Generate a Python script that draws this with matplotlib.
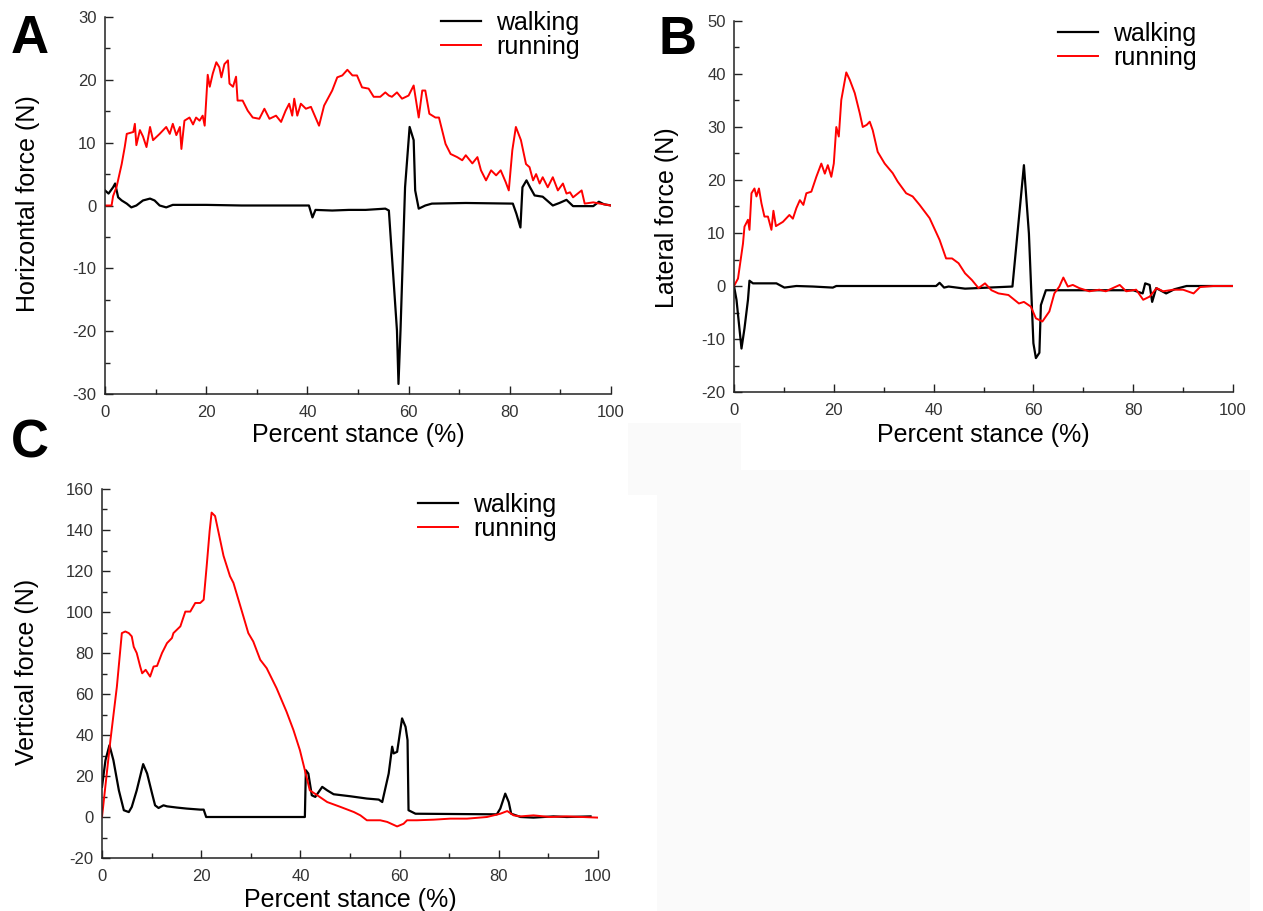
import matplotlib
matplotlib.use("Agg")
import matplotlib.pyplot as plt
from matplotlib.patches import Rectangle
from matplotlib.ticker import MultipleLocator

plt.rcParams['font.family'] = ['Liberation Sans', 'DejaVu Sans']
plt.rcParams['axes.unicode_minus'] = False

# ---------------- data ----------------
# Panel A: horizontal force
a_run_x = [0, 1.3, 1.6, 2.3, 3.3, 3.9, 4.3, 5.6, 5.9, 6.2, 6.9, 7.5, 8.2, 8.9, 9.5, 10.8, 12.1, 12.8,
           13.4, 14.1, 14.8, 15.1, 15.7, 16.7, 17.4, 18.0, 18.7, 19.3, 19.7, 20.3, 20.7, 21.3, 22.0,
           22.6, 23.0, 23.6, 24.3, 24.6, 25.3, 25.9, 26.2, 27.2, 28.2, 29.2, 30.5, 31.5, 32.5, 33.8,
           34.8, 35.7, 36.4, 37.0, 37.4, 38.0, 38.7, 39.7, 40.7, 42.3, 43.3, 44.9, 45.9, 46.9, 47.9,
           48.9, 49.8, 50.8, 52.1, 53.1, 54.4, 55.4, 56.1, 56.7, 57.7, 58.7, 60.0, 61.0, 62.0, 62.7,
           63.3, 64.1, 65.3, 66.0, 67.3, 68.3, 69.6, 70.6, 71.3, 72.6, 73.6, 74.3, 75.3, 76.3, 77.3,
           78.2, 79.2, 79.8, 80.5, 81.2, 82.2, 83.2, 83.9, 84.6, 85.2, 85.9, 86.5, 87.5, 88.5, 89.5,
           90.5, 91.2, 91.9, 92.5, 94.2, 94.8, 96.5, 97.8, 100]
a_run_y = [0, 0, 1.5, 3.0, 6.6, 9.3, 11.4, 11.7, 13.0, 9.6, 12.0, 11.0, 9.3, 12.5, 10.4, 11.4, 12.5, 11.4,
           13.0, 11.2, 12.5, 9.0, 13.5, 14.0, 12.9, 14.0, 13.5, 14.3, 12.7, 20.8, 18.9, 21.0, 22.8,
           22.0, 20.4, 22.5, 23.1, 19.4, 18.9, 20.5, 16.7, 16.7, 15.1, 14.0, 13.8, 15.4, 13.8, 14.3,
           13.3, 15.1, 16.2, 14.3, 17.0, 14.3, 16.2, 15.4, 15.7, 12.7, 15.9, 18.3, 20.4, 20.7, 21.6,
           20.7, 20.7, 18.8, 18.6, 17.3, 17.3, 18.0, 17.5, 17.3, 18.0, 17.0, 17.5, 19.1, 14.0, 18.3,
           18.3, 14.6, 14.0, 14.0, 9.8, 8.2, 7.7, 7.2, 8.0, 6.7, 7.7, 5.6, 4.0, 5.6, 4.8,
           5.6, 3.7, 2.4, 8.8, 12.5, 10.4, 6.6, 6.1, 4.0, 5.0, 3.5, 4.5, 2.9, 4.5, 2.4,
           3.5, 1.9, 2.1, 1.3, 2.4, 0.3, 0.5, 0.3, 0]
a_walk_x = [0, 0.7, 1.6, 2.0, 2.6, 3.3, 4.3, 5.2, 6.2, 7.5, 8.9, 9.8, 10.8, 12.1, 13.4, 20, 27, 40.3,
            41.0, 41.6, 44.9, 48.2, 51.5, 55.4, 56.1, 57.7, 58.0, 58.4, 59.3, 60.2, 61.0, 61.3, 62.0,
            63.3, 64.6, 71.3, 80.6, 81.3, 82.1, 82.5, 83.3, 84.0, 84.9, 86.5, 88.5, 89.8, 91.2, 92.5,
            96.5, 97.6, 98.6, 100]
a_walk_y = [2.4, 1.9, 2.9, 3.5, 1.3, 0.8, 0.3, -0.3, 0, 0.8, 1.1, 0.8, 0, -0.3, 0.1, 0.1, 0, 0,
            -1.9, -0.7, -0.8, -0.7, -0.7, -0.5, -0.8, -19.9, -28.4, -19.9, 2.9, 12.5, 10.4, 2.4, -0.5,
            0, 0.3, 0.4, 0.3, -1.3, -3.5, 2.9, 4.0, 2.9, 1.6, 1.4, 0, 0.4, 0.9, -0.1,
            -0.1, 0.6, 0.2, 0]

# Panel B: lateral force
b_run_x = [0, 0.8, 1.8, 2.1, 2.8, 3.1, 3.5, 4.1, 4.5, 5.0, 5.5, 6.1, 6.8, 7.5, 7.9, 8.4, 9.8, 11.1,
           11.8, 12.5, 13.2, 13.9, 14.5, 15.5, 16.5, 17.5, 18.2, 18.8, 19.5, 20.0, 20.5, 21.0, 21.5,
           22.5, 23.2, 24.2, 25.2, 25.8, 26.6, 27.2, 27.8, 28.8, 30.2, 31.8, 32.8, 34.5, 35.8, 37.2,
           39.2, 41.2, 42.5, 43.7, 45.0, 46.3, 47.7, 49.0, 50.3, 51.6, 53.0, 55.0, 57.1, 58.1, 59.5,
           60.5, 61.8, 63.2, 64.2, 65.2, 66.0, 66.9, 67.9, 69.2, 71.2, 73.2, 74.5, 77.3, 78.6, 80.6,
           82.0, 83.3, 84.7, 86.0, 88.0, 90.0, 92.1, 93.4, 96.1, 100]
b_run_y = [0, 1.4, 8.0, 11.2, 12.5, 10.6, 17.5, 18.4, 16.9, 18.4, 15.6, 13.1, 13.1, 10.6, 14.2, 11.3, 12.1, 13.4,
           12.7, 14.7, 16.2, 15.3, 17.5, 17.8, 20.6, 23.1, 21.2, 22.8, 20.6, 23.1, 30.0, 28.2, 35.1,
           40.3, 38.9, 36.4, 32.6, 30.0, 30.4, 31.0, 29.4, 25.3, 23.1, 21.3, 19.7, 17.5, 16.9, 15.3,
           12.8, 8.7, 5.2, 5.2, 4.3, 2.4, 1.1, -0.4, 0.5, -0.8, -1.4, -1.7, -3.3, -3.0, -3.9,
           -6.1, -6.7, -4.8, -1.4, -0.1, 1.6, -0.1, 0.2, -0.4, -1.0, -0.7, -1.0, 0.2, -1.0, -0.7,
           -2.6, -2.0, -0.4, -1.0, -0.7, -0.7, -1.4, -0.2, 0, 0]
b_walk_x = [0, 0.5, 1.5, 2.1, 2.8, 3.1, 3.8, 5.8, 8.5, 10.1, 12.5, 15.8, 19.8, 20.5, 40.5, 41.2, 42.1,
            43.0, 46.3, 51.0, 55.8, 58.1, 59.1, 60.0, 60.5, 61.2, 61.5, 62.5, 80.0, 81.9, 82.4, 83.3,
            83.8, 84.6, 86.6, 88.3, 90.7, 100]
b_walk_y = [0, -2.6, -11.8, -8.0, -2.6, 1.0, 0.5, 0.5, 0.5, -0.3, 0, -0.1, -0.3, 0, 0, 0.6, -0.3,
            -0.1, -0.5, -0.3, -0.1, 22.8, 9.9, -10.8, -13.6, -12.6, -3.6, -0.8, -0.8, -1.4, 0.5, 0.2,
            -3.0, -0.4, -1.4, -0.6, 0, 0]

# Panel C: vertical force
c_run_x = [0, 1.7, 3.0, 4.0, 4.7, 5.4, 6.0, 6.4, 7.0, 7.7, 8.1, 8.8, 9.7, 10.4, 11.1, 12.1, 13.1, 14.1,
           14.4, 15.8, 16.8, 17.8, 18.8, 19.8, 20.5, 21.1, 21.7, 22.1, 22.8, 23.5, 24.5, 25.8, 26.5,
           27.2, 28.5, 29.5, 30.5, 31.9, 33.2, 35.2, 37.2, 38.6, 39.9, 40.9, 41.9, 43.4, 45.4, 48.1,
           50.8, 52.1, 53.4, 56.1, 57.5, 59.5, 60.8, 61.5, 63.5, 66.9, 70.2, 73.6, 77.6, 80.3, 81.7,
           83.0, 84.4, 87.0, 90.3, 93.7, 100]
c_run_y = [0, 37.5, 63.6, 89.7, 90.5, 89.7, 88.1, 83.0, 80.0, 73.4, 70.1, 71.8, 68.5, 73.4, 73.7, 80.0, 84.8, 87.3,
           89.7, 93.0, 100.2, 100.2, 104.4, 104.4, 106.0, 122.3, 139.5, 148.5, 146.8, 138.8, 127.4, 117.5, 114.2,
           108.5, 97.9, 89.7, 85.6, 76.7, 72.6, 62.8, 51.4, 42.4, 32.6, 22.8, 13.0, 10.6, 7.3, 4.9,
           2.4, 0.8, -1.6, -1.6, -2.4, -4.6, -3.3, -1.6, -1.6, -1.3, -0.8, -0.8, 0, 1.6, 2.9,
           0.8, 0.3, 0.8, 0, 0.3, -0.3]
c_walk_x = [0, 0.7, 1.5, 2.3, 3.4, 4.4, 5.4, 6.0, 7.0, 8.3, 9.1, 10.1, 10.7, 11.4, 12.4, 13.1, 15.1,
            17.1, 19.8, 20.5, 21.0, 30.0, 40.9, 41.1, 41.6, 42.3, 43.0, 44.4, 45.4, 46.7, 50.1, 53.4,
            55.8, 56.5, 57.8, 58.5, 58.8, 59.5, 60.5, 61.2, 61.6, 61.8, 63.2, 79.6, 80.3, 81.3, 82.0,
            82.5, 84.4, 87.0, 91.0, 93.7, 98.5]
c_walk_y = [14.7, 27.7, 35.0, 27.7, 13.0, 3.3, 2.4, 4.9, 13.0, 25.8, 21.2, 11.4, 5.7, 4.4, 5.7, 5.2, 4.6,
            4.1, 3.6, 3.6, 0, 0, 0, 22.8, 21.2, 10.6, 9.8, 14.7, 13.0, 11.1, 10.1, 9.0,
            8.5, 7.3, 21.2, 34.3, 31.0, 31.8, 48.1, 44.0, 37.5, 3.3, 1.6, 1.3, 4.1, 11.4, 7.3,
            1.6, 0, -0.3, 0.3, 0, 0.3]

panels = [
    # letter, walk, run, ylabel, ylim, ymajor, axes rect (px), letter pos, ylabel coords, legend anchor
    ('A', (a_walk_x, a_walk_y), (a_run_x, a_run_y), 'Horizontal force (N)', (-30, 30), 10,
     [105, 17, 611, 394], (30, 39), (-0.128, 0.505), (441, 35)),
    ('B', (b_walk_x, b_walk_y), (b_run_x, b_run_y), 'Lateral force (N)', (-20, 50), 10,
     [734, 21, 1233, 392], (677, 40), (-0.110, 0.469), (1058, 46)),
    ('C', (c_walk_x, c_walk_y), (c_run_x, c_run_y), 'Vertical force (N)', (-20, 160), 20,
     [102, 489, 598, 858], (30, 443), (-0.127, 0.503), (418, 517)),
]

W, H = 1263, 911
fig = plt.figure(figsize=(W / 100, H / 100), dpi=100)

# faint grey background blocks in the empty lower-right corner
fig.add_artist(Rectangle((628 / W, 1 - 495 / H), 113 / W, 72 / H, transform=fig.transFigure,
                         facecolor='#fafafa', edgecolor='none', zorder=0))
fig.add_artist(Rectangle((657 / W, 0), 593 / W, 1 - 470 / H, transform=fig.transFigure,
                         facecolor='#fafafa', edgecolor='none', zorder=0))

for letter, walk, run, ylabel, ylim, ymaj, rect, lpos, ylc, legpos in panels:
    x0, y0, x1, y1 = rect
    ax = fig.add_axes([x0 / W, 1 - y1 / H, (x1 - x0) / W, (y1 - y0) / H])
    ax.patch.set_alpha(0)
    ax.plot(walk[0], walk[1], color='black', lw=1.6, label='walking')
    ax.plot(run[0], run[1], color='#ff0000', lw=1.4, label='running')
    ax.set_xlim(0, 100)
    ax.set_ylim(*ylim)
    ax.xaxis.set_major_locator(MultipleLocator(20))
    ax.xaxis.set_minor_locator(MultipleLocator(10))
    ax.yaxis.set_major_locator(MultipleLocator(ymaj))
    ax.yaxis.set_minor_locator(MultipleLocator(ymaj / 2))
    for s in ['top', 'right']:
        ax.spines[s].set_visible(False)
    for s in ['left', 'bottom']:
        ax.spines[s].set_linewidth(1.1)
        ax.spines[s].set_color('#222222')
    ax.tick_params(which='both', direction='in', colors='#222222', labelcolor='#333333',
                   labelsize=12, width=1.0)
    ax.tick_params(which='major', length=5.5)
    ax.tick_params(which='minor', length=3.5)
    ax.tick_params(axis='x', pad=8)
    ax.tick_params(axis='y', pad=6)
    ax.set_xlabel('Percent stance (%)', fontsize=18)
    ax.xaxis.set_label_coords(0.5, -(888 - 858) / (y1 - y0) if letter == 'C' else -(423 - y1) / (y1 - y0))
    ax.set_ylabel(ylabel, fontsize=18)
    ax.yaxis.set_label_coords(*ylc)
    ax.legend(loc='center left', bbox_to_anchor=(legpos[0] / W, 1 - legpos[1] / H),
              bbox_transform=fig.transFigure, frameon=False, fontsize=18,
              handlelength=1.6, handletextpad=0.6, labelspacing=0.0,
              borderpad=0, borderaxespad=0)
    fig.text(lpos[0] / W, 1 - lpos[1] / H, letter, fontsize=38, fontweight='bold',
             ha='center', va='center')

fig.savefig('out.png', dpi=100)
